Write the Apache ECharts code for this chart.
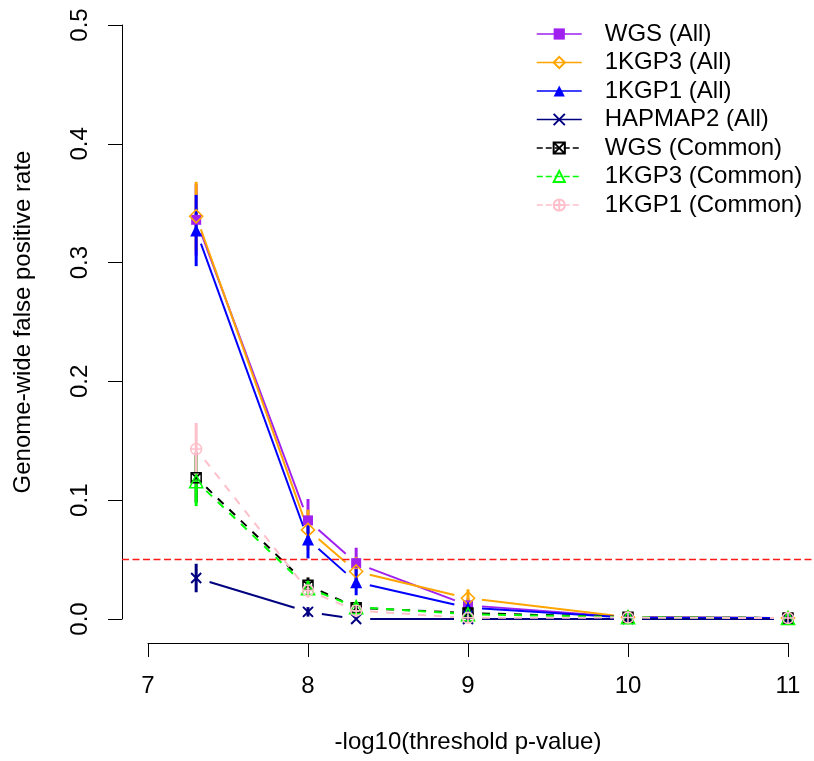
<!DOCTYPE html>
<html>
<head>
<meta charset="utf-8">
<script src="https://cdn.jsdelivr.net/npm/echarts@6/dist/echarts.min.js"></script>
<style>
  html, body { margin: 0; padding: 0; background: #ffffff; }
  #chart { width: 814px; height: 761px; }
</style>
</head>
<body>
<div id="chart"></div>
<script>
// -log10 of the genome-wide significance thresholds tested
const thresholds = [7.30103, 8, 8.30103, 9, 10, 11];

// Estimated genome-wide false positive rate and CI half-width per panel
const wgsAll        = [0.336, 0.083, 0.047, 0.0115, 0.0015, 0.0008];
const wgsAllErr     = [0.030, 0.018, 0.013, 0.006, 0.001, 0.0008];
const kgp3All       = [0.339, 0.075, 0.040, 0.0175, 0.0015, 0.0008];
const kgp3AllErr    = [0.029, 0.017, 0.012, 0.0075, 0.001, 0.0008];
const kgp1All       = [0.327, 0.067, 0.031, 0.0095, 0.0012, 0.0008];
const kgp1AllErr    = [0.030, 0.016, 0.011, 0.005, 0.001, 0.0008];
const hapmap2All    = [0.0345, 0.006, 0, 0, 0, 0];
const hapmap2AllErr = [0.012, 0.004, 0, 0, 0, 0];
const wgsCommon     = [0.119, 0.0285, 0.0095, 0.005, 0.0015, 0.0008];
const wgsCommonErr  = [0.021, 0.0065, 0.004, 0.003, 0.001, 0.0008];
const kgp3Common    = [0.116, 0.026, 0.010, 0.004, 0.0015, 0.0008];
const kgp3CommonErr = [0.021, 0.006, 0.004, 0.003, 0.001, 0.0008];
const kgp1Common    = [0.143, 0.024, 0.007, 0.001, 0.0012, 0.0008];
const kgp1CommonErr = [0.022, 0.006, 0.003, 0.001, 0.001, 0.0008];

// Conventional 5% family-wise error level
const fwerLevel = 0.05;

const FONT = '"Liberation Sans", Arial, Helvetica, sans-serif';
const SEG_GAP = 14;   // gap left around each point, like R's type = "b"

const groups = [
  { name: 'WGS (All)',      values: wgsAll,     err: wgsAllErr,     color: '#A020F0', dashed: false,
    symbol: 'rect', size: 10, fill: '#A020F0', border: 0 },
  { name: '1KGP3 (All)',    values: kgp3All,    err: kgp3AllErr,    color: '#FFA500', dashed: false,
    symbol: 'diamond', size: 13, fill: 'rgba(0,0,0,0)', border: 1.6 },
  { name: '1KGP1 (All)',    values: kgp1All,    err: kgp1AllErr,    color: '#0000FF', dashed: false,
    symbol: 'triangle', size: 12, fill: '#0000FF', border: 0 },
  { name: 'HAPMAP2 (All)',  values: hapmap2All, err: hapmap2AllErr, color: '#000080', dashed: false,
    symbol: 'path://M0,0L10,10M10,0L0,10', size: 10, fill: 'rgba(0,0,0,0)', border: 2 },
  { name: 'WGS (Common)',   values: wgsCommon,  err: wgsCommonErr,  color: '#000000', dashed: true,
    symbol: 'path://M0,0L10,0L10,10L0,10ZM0,0L10,10M10,0L0,10', size: 10, fill: 'rgba(0,0,0,0)', border: 1.5 },
  { name: '1KGP3 (Common)', values: kgp3Common, err: kgp3CommonErr, color: '#00FF00', dashed: true,
    symbol: 'triangle', size: 13, fill: 'rgba(0,0,0,0)', border: 1.6 },
  { name: '1KGP1 (Common)', values: kgp1Common, err: kgp1CommonErr, color: '#FFC0CB', dashed: true,
    symbol: 'path://M0,5A5,5,0,1,1,10,5A5,5,0,1,1,0,5ZM5,0L5,10M0,5L10,5', size: 11, fill: 'rgba(0,0,0,0)', border: 1.5 }
];

function segmentRenderer(color, dashed) {
  return function (params, api) {
    const a = api.coord([api.value(0), api.value(1)]);
    const b = api.coord([api.value(2), api.value(3)]);
    const dx = b[0] - a[0], dy = b[1] - a[1];
    const len = Math.hypot(dx, dy);
    if (len <= 2 * SEG_GAP) return null;
    const ux = dx / len, uy = dy / len;
    return {
      type: 'line',
      shape: { x1: a[0] + ux * SEG_GAP, y1: a[1] + uy * SEG_GAP,
               x2: b[0] - ux * SEG_GAP, y2: b[1] - uy * SEG_GAP },
      style: { stroke: color, lineWidth: 2, lineDash: dashed ? [8, 8] : null, fill: null }
    };
  };
}

function errorBarRenderer(color) {
  return function (params, api) {
    const lo = api.coord([api.value(0), api.value(1)]);
    const hi = api.coord([api.value(0), api.value(2)]);
    return {
      type: 'line',
      shape: { x1: lo[0], y1: lo[1], x2: hi[0], y2: hi[1] },
      style: { stroke: color, lineWidth: 3, fill: null }
    };
  };
}

const series = [];

// Legend-only entries (line + symbol icon)
groups.forEach(g => {
  series.push({
    type: 'line', name: g.name, data: [],
    symbol: g.symbol, symbolSize: g.size,
    lineStyle: { color: g.color, width: 2, type: g.dashed ? 'dashed' : 'solid' },
    itemStyle: { color: g.fill, borderColor: g.color, borderWidth: g.border },
    silent: true
  });
});

groups.forEach(g => {
  const segments = thresholds.slice(0, -1).map((x, i) =>
    [x, g.values[i], thresholds[i + 1], g.values[i + 1]]);
  series.push({
    type: 'custom', name: g.name, silent: true, clip: false,
    encode: { x: [0, 2], y: [1, 3] },
    renderItem: segmentRenderer(g.color, g.dashed),
    data: segments
  });
  series.push({
    type: 'scatter', name: g.name, silent: true,
    symbol: g.symbol, symbolSize: g.size,
    itemStyle: { color: g.fill, borderColor: g.color, borderWidth: g.border, opacity: 1 },
    data: thresholds.map((x, i) => [x, g.values[i]])
  });
  series.push({
    type: 'custom', name: g.name, silent: true, clip: false,
    encode: { x: 0, y: [1, 2] },
    renderItem: errorBarRenderer(g.color),
    data: thresholds.map((x, i) => [x, g.values[i] - g.err[i], g.values[i] + g.err[i]])
  });
});

// Horizontal reference line across the whole plotting region
series.push({
  type: 'custom', name: 'threshold', silent: true, clip: false,
  encode: { x: 0, y: 1 },
  renderItem: function (params, api) {
    const cs = params.coordSys;
    const y = api.coord([api.value(0), api.value(1)])[1];
    return {
      type: 'line',
      shape: { x1: cs.x - 26, y1: y, x2: cs.x + cs.width + 26, y2: y },
      style: { stroke: '#FF1A1A', lineWidth: 1.5, lineDash: [7, 3.5], fill: null }
    };
  },
  data: [[thresholds[0], fwerLevel]]
});

const axisLineStyle = { color: '#000000', width: 1 };

const option = {
  animation: false,
  backgroundColor: '#ffffff',
  textStyle: { fontFamily: FONT, color: '#000000' },
  grid: { left: 148, right: 26, top: 25, bottom: 142 },
  xAxis: {
    type: 'value', min: 7, max: 11, interval: 1, offset: 24,
    axisLine: { show: true, onZero: false, lineStyle: axisLineStyle },
    axisTick: { show: true, length: 14, inside: false, lineStyle: axisLineStyle },
    axisLabel: { margin: 31, fontSize: 24, color: '#000000', fontFamily: FONT },
    splitLine: { show: false },
    name: '-log10(threshold p-value)', nameLocation: 'middle', nameGap: 87,
    nameTextStyle: { fontSize: 24, color: '#000000', fontFamily: FONT }
  },
  yAxis: {
    type: 'value', min: 0, max: 0.5, interval: 0.1, offset: 26,
    axisLine: { show: true, onZero: false, lineStyle: axisLineStyle },
    axisTick: { show: true, length: 14, inside: false, lineStyle: axisLineStyle },
    axisLabel: { margin: 30, fontSize: 24, rotate: 90, color: '#000000', fontFamily: FONT,
                 formatter: v => v.toFixed(1) },
    splitLine: { show: false },
    name: 'Genome-wide false positive rate', nameLocation: 'middle', nameGap: 87,
    nameTextStyle: { fontSize: 24, color: '#000000', fontFamily: FONT }
  },
  legend: {
    data: groups.map(g => g.name),
    orient: 'vertical', left: 531, top: 17,
    itemWidth: 45, itemHeight: 14, itemGap: 4.5,
    selectedMode: false,
    lineStyle: { width: 1.5 },
    formatter: name => '{t|' + name + '}',
    textStyle: {
      fontFamily: FONT, fontSize: 24, color: '#000000',
      rich: { t: { fontFamily: FONT, fontSize: 24, color: '#000000', padding: [0, 0, 0, 18] } }
    }
  },
  series: series
};

const chart = echarts.init(document.getElementById('chart'), null, { renderer: 'canvas' });
chart.setOption(option);
</script>
</body>
</html>
